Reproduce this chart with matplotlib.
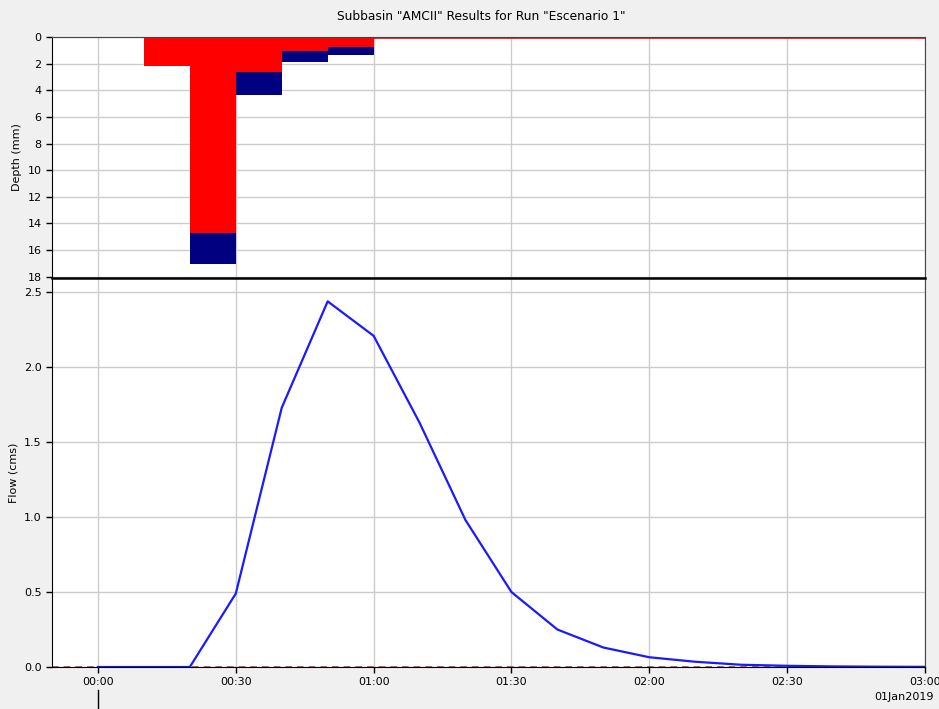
import matplotlib
matplotlib.use("Agg")
import matplotlib.pyplot as plt
import numpy as np

# ---- data ----
bar_start_min = [10, 20, 30, 40, 50]          # interval starts (minutes)
bar_width_min = 10
loss_mm = [2.2, 14.7, 2.6, 1.03, 0.72]         # red (loss)
excess_mm = [0.0, 2.35, 1.75, 0.87, 0.63]      # navy (excess)

flow_time_min = [0, 10, 20, 30, 40, 50, 60, 70, 80, 90, 100, 110, 120,
                 130, 140, 150, 160, 170, 180]
flow_cms = [0, 0, 0, 0.49, 1.73, 2.44, 2.21, 1.63, 0.98, 0.50, 0.25, 0.13,
            0.065, 0.035, 0.015, 0.008, 0.004, 0.002, 0.001]

xtick_min = [0, 30, 60, 90, 120, 150, 180]
xtick_labels = ["00:00", "00:30", "01:00", "01:30", "02:00", "02:30", "03:00"]
title = 'Subbasin "AMCII" Results for Run "Escenario 1"'

W, H = 939, 709
fig = plt.figure(figsize=(W / 100, H / 100), dpi=100, facecolor="#f0f0f0")

def frac(l, t, r, b):
    return [l / W, 1 - b / H, (r - l) / W, (b - t) / H]

ax1 = fig.add_axes(frac(52, 37, 925, 278))
ax2 = fig.add_axes(frac(52, 278, 925, 667))

grid_c = "#cccccc"
for ax in (ax1, ax2):
    ax.set_facecolor("white")
    ax.set_xlim(-10, 180)
    ax.set_xticks(xtick_min)
    ax.grid(True, color=grid_c, linewidth=1)
    ax.set_axisbelow(True)
    ax.tick_params(labelsize=8, length=4, width=1, color="black")
    for s in ax.spines.values():
        s.set_color("#444444")
    ax.spines["left"].set_color("black")

# top panel: depth bars
ax1.bar(bar_start_min, loss_mm, width=bar_width_min, align="edge",
        color="#ff0000", linewidth=0)
ax1.bar(bar_start_min, excess_mm, width=bar_width_min, align="edge",
        bottom=loss_mm, color="#000080", linewidth=0)
ax1.plot([60, 180], [0.05, 0.05], color="#ff0000", linewidth=1.2)
ax1.set_ylim(18.1, 0)
ax1.set_yticks(np.arange(0, 19, 2))
ax1.set_ylabel("Depth (mm)", fontsize=8)
ax1.tick_params(axis="x", length=0, labelbottom=False)
ax1.spines["bottom"].set_visible(False)

# bottom panel: flow
ax2.plot([-10, 180], [0.003, 0.003], color="#a05050", linewidth=1.2,
         linestyle=(0, (4, 3)))
ax2.plot(flow_time_min, flow_cms, color="#1a1aff", linewidth=1.6)
ax2.set_ylim(0, 2.596)
ax2.set_yticks([0.0, 0.5, 1.0, 1.5, 2.0, 2.5])
ax2.set_yticklabels(["0.0", "0.5", "1.0", "1.5", "2.0", "2.5"])
ax2.set_xticklabels(xtick_labels)
ax2.set_ylabel("Flow (cms)", fontsize=8)
ax2.spines["top"].set_color("black")
ax2.spines["top"].set_linewidth(1.8)
ax2.spines["bottom"].set_color("black")

fig.text(481 / W, 1 - 17 / H, title, ha="center", va="center", fontsize=8.8)
fig.text(934 / W, 1 - 697 / H, "01Jan2019", ha="right", va="center", fontsize=8)
fig.add_artist(plt.Line2D([98 / W, 98 / W], [1 - 690 / H, 0], color="black",
                          linewidth=1, transform=fig.transFigure))

fig.savefig("out.png", dpi=100, facecolor=fig.get_facecolor())
